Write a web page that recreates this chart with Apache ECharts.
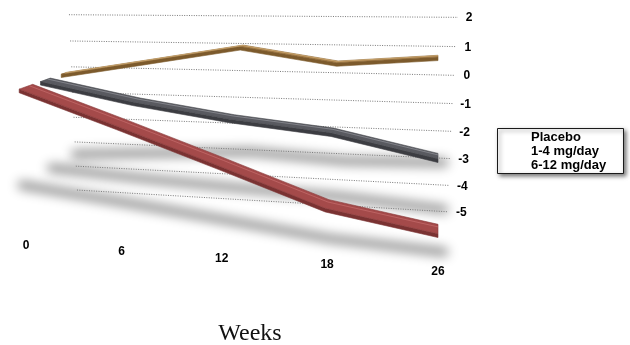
<!DOCTYPE html>
<html>
<head>
<meta charset="utf-8">
<script src="https://cdn.jsdelivr.net/npm/echarts@6/dist/echarts.min.js"></script>
<style>
  html, body { margin: 0; padding: 0; background: #fff; }
  #chart { width: 630px; height: 345px; }
</style>
</head>
<body>
<div id="chart"></div>
<script>
// Change from baseline by treatment group over the study weeks
const weeks = ['0', '6', '12', '18', '26'];
const seriesNames = ['Placebo', '1-4 mg/day', '6-12 mg/day'];
const placebo  = [0, 0.55, 1.1, 0.6, 0.85];
const lowDose  = [0, -0.63, -1.12, -1.47, -2.2];
const highDose = [0, -1.13, -2.32, -3.56, -4.2];
const yTicks = [2, 1, 0, -1, -2, -3, -4, -5];
const axisTitle = 'Weeks';

// ---- 3D perspective helpers ----------------------------------------------
// (fp, t) are positions on the back wall: fp across the weeks, t down the value axis.
// z moves a point forward, scaling it away from the depth vanishing point.
const VP = [438, -59];
const DEPTH_STEP = 1.0495;
function toFp(f) { return f / ((1 - f) * 1.105 + f); }
function projectP(fp, t, z) {
  const xb = 81.6 + 356.4 * fp;
  const top = 14.8 + 2.4 * fp;
  const h = 175.5 + 18.5 * fp;
  const yb = top + h * t * 1.06 / (1 + 0.06 * t);
  const s = Math.pow(DEPTH_STEP, z);
  return [VP[0] + (xb - VP[0]) * s, VP[1] + (yb - VP[1]) * s];
}
function project(f, t, z) { return projectP(toFp(f), t, z); }
// normalised position of a data point inside the (hidden) cartesian grid
function norm(api, cs, i, v) {
  const p = api.coord([i, v]);
  return [(p[0] - cs.x) / cs.width, (p[1] - cs.y) / cs.height];
}

const SANS = '"Liberation Sans", Arial, Helvetica, sans-serif';

function ribbon(values, depth, half, thick, col) {
  return function (params, api) {
    if (params.dataIndex !== 0) return;
    const cs = params.coordSys;
    const ft = values.map((v, i) => norm(api, cs, i, v));
    const dt = norm(api, cs, 0, -thick)[1] - norm(api, cs, 0, 0)[1];
    const back = ft.map(p => project(p[0], p[1], depth - half));
    const front = ft.map(p => project(p[0], p[1], depth + half));
    const low = ft.map(p => project(p[0], p[1] + dt, depth + half));
    const mid = ft.map(p => project(p[0], p[1], depth - half * 0.45));
    return {
      type: 'group',
      children: [
        { type: 'polygon', shape: { points: front.concat(low.slice().reverse()) },
          style: { fill: col.side, stroke: col.side, lineWidth: 0.6 } },
        { type: 'polygon', shape: { points: back.concat(front.slice().reverse()) },
          style: { fill: col.top, stroke: col.edge, lineWidth: 0.6 } },
        { type: 'polyline', shape: { points: mid },
          style: { fill: null, stroke: col.light, lineWidth: 1, opacity: 0.75 } }
      ]
    };
  };
}

function shadowBand(values, depth) {
  return function (params, api) {
    if (params.dataIndex !== 0) return;
    const cs = params.coordSys;
    const pts = values.map((v, i) => {
      const p = norm(api, cs, i, -3.2 + 0.36 * v);
      const q = project(p[0], p[1], depth);
      return [q[0], q[1] - 2000];
    });
    return {
      type: 'polyline',
      shape: { points: pts },
      style: {
        fill: null, stroke: '#000', lineWidth: 9, lineCap: 'round',
        shadowBlur: 11, shadowColor: 'rgba(0,0,0,0.42)', shadowOffsetX: 6, shadowOffsetY: 2000
      }
    };
  };
}

const ribbonDefs = [
  { data: placebo, depth: 1, half: 0.15, thick: 0.12,
    col: { top: '#A67C45', side: '#7C5A2C', edge: '#8C6636', light: '#D3B07A' } },
  { data: lowDose, depth: 2, half: 0.26, thick: 0.12,
    col: { top: '#595A60', side: '#3C3D42', edge: '#47484D', light: '#8E8F96' } },
  { data: highDose, depth: 3, half: 0.34, thick: 0.12,
    col: { top: '#A44A4A', side: '#7A3232', edge: '#863838', light: '#C46B6B' } }
];

const series = [];

// soft floor shadows under each line
ribbonDefs.forEach((r, k) => {
  series.push({
    type: 'custom', name: 'shadow' + k, silent: true, clip: false, z: 1,
    data: r.data.map((v, i) => [i, v]),
    renderItem: shadowBand(r.data, [0.7, 2.0, 3.5][k])
  });
});

// dotted gridlines on the back wall with value labels on the right
series.push({
  type: 'custom', name: 'gridlines', silent: true, clip: false, z: 2,
  data: yTicks.map(v => [0, v]),
  renderItem: function (params, api) {
    const cs = params.coordSys;
    const v = api.value(1);
    const t = norm(api, cs, 0, v)[1];
    const a = projectP(-0.0354 + 0.0224 * t, t, 0);
    const b = projectP(1.0561 - 0.0309 * t, t, 0);
    const lab = projectP(1.087 - 0.0216 * t, t, 0);
    return {
      type: 'group',
      children: [
        { type: 'line', shape: { x1: a[0], y1: a[1], x2: b[0], y2: b[1] },
          style: { stroke: '#7a7a7a', lineWidth: 1, lineDash: [1, 1.4] } },
        { type: 'text', x: lab[0], y: lab[1] + 0.5,
          style: { text: String(v), font: 'bold 12px ' + SANS, fill: '#000',
                   align: 'center', verticalAlign: 'middle' } }
      ]
    };
  }
});

// the three treatment lines as 3D ribbons, back to front
ribbonDefs.forEach((r, k) => {
  series.push({
    type: 'custom', name: seriesNames[k], clip: false, z: 3 + k,
    data: r.data.map((v, i) => [i, v]),
    renderItem: ribbon(r.data, r.depth, r.half, r.thick, r.col)
  });
});

// week labels along the front edge of the floor
series.push({
  type: 'custom', name: 'weekLabels', silent: true, clip: false, z: 7,
  data: weeks.map((w, i) => [i, -5.62]),
  renderItem: function (params, api) {
    const cs = params.coordSys;
    const p = norm(api, cs, api.value(0), api.value(1));
    const q = project(p[0], p[1], 3);
    return { type: 'text', x: q[0], y: q[1],
      style: { text: weeks[params.dataIndex], font: 'bold 12px ' + SANS, fill: '#000',
               align: 'center', verticalAlign: 'middle' } };
  }
});

const chart = echarts.init(document.getElementById('chart'), null, { renderer: 'canvas' });
chart.setOption({
  animation: false,
  backgroundColor: '#fff',
  grid: { left: 100, top: 40, width: 300, height: 150, show: false },
  xAxis: { type: 'category', data: weeks, boundaryGap: false, show: false },
  yAxis: { type: 'value', min: -5, max: 2, interval: 1, show: false },
  series: series,
  graphic: [
    { type: 'rect', z: 20,
      shape: { x: 497.5, y: 128.5, width: 126, height: 45 },
      style: { fill: '#fff', stroke: '#1a1a1a', lineWidth: 1,
               shadowBlur: 4, shadowOffsetX: 2, shadowOffsetY: 2, shadowColor: 'rgba(0,0,0,0.5)' } }
  ].concat(seriesNames.map((n, i) => ({
    type: 'text', z: 21, x: 531, y: 137.5 + 13.8 * i,
    style: { text: n, font: 'bold 13px ' + SANS, fill: '#000', verticalAlign: 'middle' }
  }))).concat([
    { type: 'text', z: 21, x: 250, y: 334,
      style: { text: axisTitle, font: '24px "Liberation Serif", "Times New Roman", serif', fill: '#111',
               align: 'center', verticalAlign: 'middle' } }
  ])
});
</script>
</body>
</html>
